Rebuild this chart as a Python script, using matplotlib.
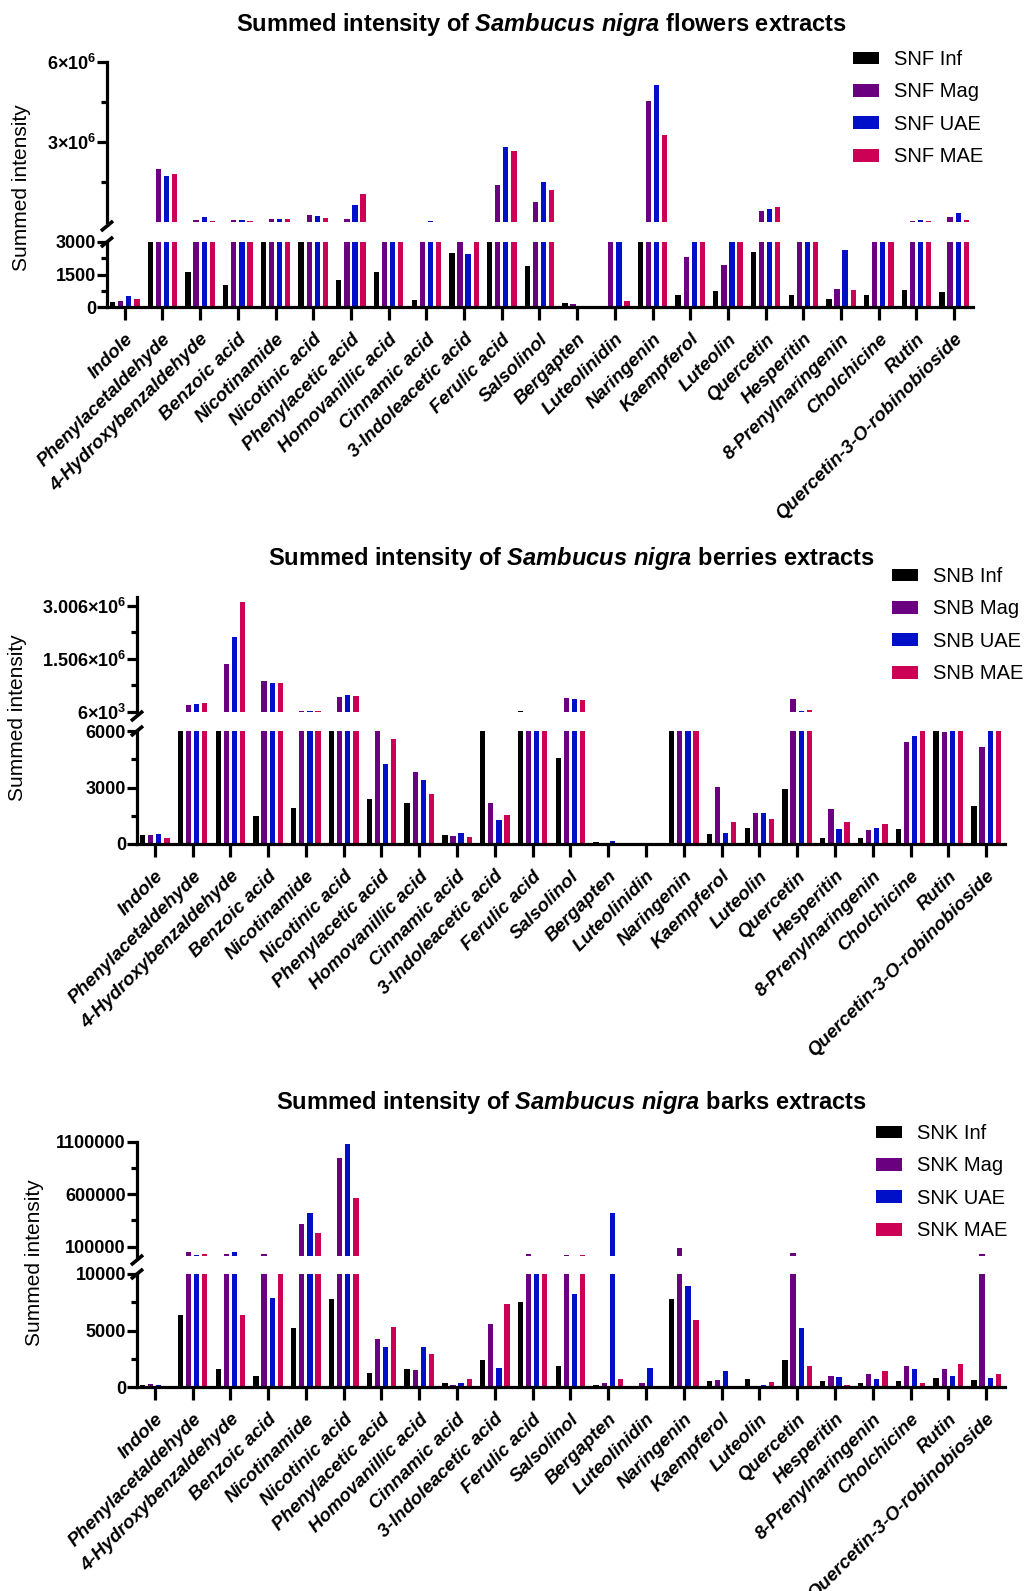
import matplotlib
matplotlib.use('Agg')
import matplotlib.pyplot as plt
import numpy as np
from matplotlib.patches import Patch
from matplotlib.lines import Line2D

plt.rcParams['font.family'] = ['Liberation Sans', 'DejaVu Sans']
plt.rcParams['mathtext.fontset'] = 'custom'
plt.rcParams['mathtext.rm'] = 'Liberation Sans'
plt.rcParams['mathtext.bf'] = 'Liberation Sans:bold'
plt.rcParams['mathtext.it'] = 'Liberation Sans:italic:bold'

compounds = ["Indole", "Phenylacetaldehyde", "4-Hydroxybenzaldehyde", "Benzoic acid",
             "Nicotinamide", "Nicotinic acid", "Phenylacetic acid", "Homovanillic acid",
             "Cinnamic acid", "3-Indoleacetic acid", "Ferulic acid", "Salsolinol",
             "Bergapten", "Luteolinidin", "Naringenin", "Kaempferol", "Luteolin",
             "Quercetin", "Hesperitin", "8-Prenylnaringenin", "Cholchicine", "Rutin",
             "Quercetin-3-O-robinobioside"]

# Flowers (SNF)
snf_inf = [215, 5000, 1630, 1000, 5000, 5000, 1230, 1615, 338, 2490, 5000, 1907, 169, 0,
           5000, 538, 738, 2538, 569, 385, 569, 785, 677]
snf_mag = [262, 2.0e6, 87500, 87500, 125000, 275000, 125000, 10000, 15000, 20000, 1.39e6,
           737500, 123, 4000, 4.525e6, 2290, 1938, 412500, 10000, 815, 4000, 25000, 187500]
snf_uae = [492, 1.71e6, 187500, 62500, 100000, 237500, 637500, 10000, 25000, 2460, 2.8e6,
           1.51e6, 15, 4000, 5.15e6, 12000, 5000, 475000, 15000, 2615, 4000, 87500, 337500]
snf_mae = [369, 1.8e6, 25000, 37500, 100000, 162500, 1.06e6, 15000, 15000, 10000, 2.65e6,
           1.19e6, 10, 261, 3.275e6, 5000, 10000, 550000, 10000, 785, 4000, 50000, 62500]

# Berries (SNB)
snb_inf = [496, 8000, 8000, 1487, 1930, 8000, 2407, 2195, 496, 7000, 25000, 4584, 124, 53,
           8000, 531, 832, 2903, 301, 319, 797, 7000, 2018]
snb_mag = [460, 198000, 1.36e6, 887000, 38000, 443000, 7000, 3841, 425, 2195, 14000, 393000,
           20, 10, 12000, 3044, 1628, 364000, 1841, 726, 5399, 5930, 5151]
snb_uae = [549, 236000, 2.14e6, 840000, 47000, 481000, 4230, 3416, 584, 1292, 12000, 374000,
           160, 10, 7000, 566, 1664, 30000, 797, 850, 5735, 7000, 20000]
snb_mae = [336, 255000, 3.12e6, 840000, 47000, 453000, 5558, 2637, 372, 1522, 7000, 355000,
           10, 0, 7000, 1168, 1345, 66000, 1168, 1062, 6000, 7000, 10000]

# Barks (SNK)
snk_inf = [177, 6400, 1593, 974, 5251, 7818, 1210, 1564, 325, 2390, 7523, 1829, 177, 0,
           7788, 502, 708, 2419, 560, 384, 560, 767, 649]
snk_mag = [236, 46000, 33000, 33000, 316600, 950400, 4218, 1534, 148, 5576, 26700, 20000,
           325, 325, 84000, 590, 0, 39500, 1003, 1121, 1829, 1564, 26700]
snk_uae = [148, 15000, 46000, 7906, 418500, 1077800, 3540, 3510, 354, 1652, 12000, 8201,
           424900, 1682, 8939, 1416, 148, 5251, 885, 738, 1623, 1003, 797]
snk_mae = [118, 25000, 6372, 12000, 227400, 565000, 5281, 2950, 738, 7346, 12000, 15000,
           708, 0, 5900, 118, 413, 1829, 148, 1446, 384, 2006, 1150]

methods = ["Inf", "Mag", "UAE", "MAE"]
colors = ["#000000", "#6a0080", "#0010c8", "#cc0055"]

W, H = 1031, 1591
fig = plt.figure(figsize=(W / 100, H / 100), dpi=100)

LW = 2.3


def px_axes(x0, x1, ytop, ybot):
    return fig.add_axes([x0 / W, 1 - ybot / H, (x1 - x0) / W, (ybot - ytop) / H])


def px_line(xs, ys):
    fig.add_artist(Line2D([x / W for x in xs], [1 - y / H for y in ys],
                          transform=fig.transFigure, lw=LW + 0.3, color='black',
                          solid_capstyle='butt'))


def panel(series, prefix, organ, x0, x1, up, low, title_xy, legend_xy, ylab_xy):
    x = np.arange(len(compounds))
    step = 0.215
    width = 0.14
    ax_u = px_axes(x0, x1, up['top'], up['bot'])
    ax_l = px_axes(x0, x1, low['top'], low['bot'])
    for ax in (ax_u, ax_l):
        for i, vals in enumerate(series):
            ax.bar(x + (i - 1.5) * step, vals, width=width, color=colors[i], linewidth=0)
        ax.set_xlim(-0.47, 22.5)
        ax.spines['top'].set_visible(False)
        ax.spines['right'].set_visible(False)
        ax.spines['left'].set_linewidth(LW)
        ax.spines['bottom'].set_linewidth(LW)
        ax.tick_params(axis='y', which='major', length=7, width=LW, labelsize=13, pad=1)
        ax.tick_params(axis='y', which='minor', length=4.5, width=LW)
    # upper
    ax_u.set_ylim(up['lim'])
    ax_u.spines['bottom'].set_visible(False)
    ax_u.set_xticks([])
    ax_u.set_yticks(up['ticks'])
    ax_u.set_yticklabels(up['labels'], fontweight='bold')
    ax_u.set_yticks(up['minor'], minor=True)
    # lower
    ax_l.set_ylim(low['lim'])
    ax_l.set_yticks(low['ticks'])
    ax_l.set_yticklabels(low['labels'], fontweight='bold')
    ax_l.set_yticks(low['minor'], minor=True)
    ax_l.set_xticks(x)
    ax_l.set_xticklabels(compounds, rotation=45, ha='right', rotation_mode='anchor',
                         fontsize=13.5, fontweight='bold', fontstyle='italic')
    ax_l.tick_params(axis='x', length=9, width=LW, pad=8)
    # break marks
    yb = up['bot']
    px_line([x0 - 6, x0 + 6], [yb + 9, yb - 1])
    yt = low['top']
    px_line([x0 - 6, x0 + 6], [yt + 5, yt - 5])
    # title
    fig.text(title_xy[0] / W, 1 - title_xy[1] / H,
             r'Summed intensity of $\mathit{Sambucus\ nigra}$ ' + organ + ' extracts',
             ha='center', va='center', fontsize=17, fontweight='bold')
    # y label
    fig.text(ylab_xy[0] / W, 1 - ylab_xy[1] / H, 'Summed intensity', rotation=90,
             ha='center', va='center', fontsize=15)
    # legend
    handles = [Patch(facecolor=c, edgecolor='none') for c in colors]
    labels = [f'{prefix} {m}' for m in methods]
    fig.legend(handles, labels, loc='upper left',
               bbox_to_anchor=(legend_xy[0] / W, 1 - legend_xy[1] / H),
               frameon=False, fontsize=14.5, handlelength=1.3, handleheight=0.6,
               handletextpad=0.75, labelspacing=0.67, borderpad=0, borderaxespad=0)


# Panel 1 - flowers
panel([snf_inf, snf_mag, snf_uae, snf_mae], 'SNF', 'flowers', 107, 973,
      dict(top=62, bot=222, lim=(3000, 6e6), ticks=[3e6, 6e6],
           labels=[r'$\mathbf{3{\times}10^{6}}$', r'$\mathbf{6{\times}10^{6}}$'],
           minor=[1.5e6, 4.5e6]),
      dict(top=242, bot=307, lim=(0, 3000), ticks=[0, 1500, 3000],
           labels=['0', '1500', '3000'], minor=[750, 2250]),
      (541, 24), (853, 50), (22, 188))

# Panel 2 - berries
panel([snb_inf, snb_mag, snb_uae, snb_mae], 'SNB', 'berries', 137, 1005,
      dict(top=597, bot=712, lim=(6000, 3.26e6), ticks=[6000, 1.506e6, 3.006e6],
           labels=[r'$\mathbf{6{\times}10^{3}}$', r'$\mathbf{1.506{\times}10^{6}}$',
                   r'$\mathbf{3.006{\times}10^{6}}$'],
           minor=[0.756e6, 2.256e6]),
      dict(top=731, bot=844, lim=(0, 6000), ticks=[0, 3000, 6000],
           labels=['0', '3000', '6000'], minor=[1500, 4500]),
      (571, 558), (892, 567), (18, 718))

# Panel 3 - barks
panel([snk_inf, snk_mag, snk_uae, snk_mae], 'SNK', 'barks', 137, 1005,
      dict(top=1142, bot=1256, lim=(10000, 1.1e6), ticks=[100000, 600000, 1100000],
           labels=['100000', '600000', '1100000'], minor=[350000, 850000]),
      dict(top=1274, bot=1387, lim=(0, 10000), ticks=[0, 5000, 10000],
           labels=['0', '5000', '10000'], minor=[2500, 7500]),
      (572, 1103), (876, 1124), (35, 1263))

fig.savefig('out.png', dpi=100)
